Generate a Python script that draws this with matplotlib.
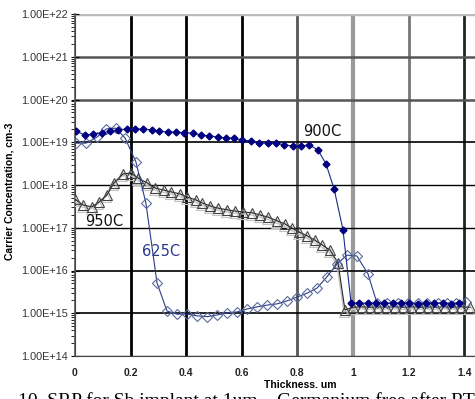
import numpy as np
import matplotlib.pyplot as plt
import matplotlib.transforms as mtransforms
from matplotlib.ticker import LogLocator, NullFormatter, FixedLocator

# 900C - fylte ruter
x_900 = [0.004, 0.035, 0.065, 0.097, 0.126, 0.155, 0.187, 0.216, 0.245, 0.277,
         0.302, 0.335, 0.363, 0.392, 0.424, 0.453, 0.482, 0.514, 0.543, 0.572,
         0.601, 0.633, 0.662, 0.694, 0.723, 0.752, 0.784, 0.813, 0.842, 0.874,
         0.903, 0.932, 0.964, 0.993, 1.022, 1.054, 1.083, 1.112, 1.144, 1.173,
         1.201, 1.234, 1.263, 1.291, 1.324, 1.353, 1.381]
log_900 = [19.26, 19.17, 19.19, 19.22, 19.26, 19.29, 19.31, 19.31, 19.31, 19.29,
           19.26, 19.24, 19.24, 19.22, 19.22, 19.17, 19.15, 19.12, 19.10, 19.10,
           19.05, 19.03, 18.98, 18.98, 18.98, 18.94, 18.91, 18.91, 18.94, 18.82,
           18.49, 17.91, 16.95, 15.24, 15.24, 15.23, 15.24, 15.23, 15.23, 15.24,
           15.23, 15.22, 15.23, 15.24, 15.23, 15.22, 15.23]

# 625C - tomme ruter
x_625 = [0.004, 0.040, 0.079, 0.112, 0.147, 0.180, 0.219, 0.255, 0.295, 0.331,
         0.367, 0.403, 0.439, 0.475, 0.511, 0.547, 0.583, 0.619, 0.655, 0.691,
         0.727, 0.763, 0.799, 0.835, 0.871, 0.906, 0.942, 0.978, 1.014, 1.054,
         1.086, 1.122, 1.162, 1.198, 1.234, 1.266, 1.306, 1.338, 1.371, 1.406]
log_625 = [18.98, 18.98, 19.12, 19.31, 19.33, 19.10, 18.54, 17.58, 15.71, 15.05,
           14.98, 14.98, 14.94, 14.92, 14.96, 15.01, 15.03, 15.10, 15.15, 15.19,
           15.22, 15.29, 15.38, 15.47, 15.59, 15.85, 16.15, 16.36, 16.34, 15.92,
           15.24, 15.24, 15.24, 15.24, 15.24, 15.24, 15.24, 15.24, 15.24, 15.26]

# 950C - trekanter
x_950 = [0.000, 0.029, 0.061, 0.086, 0.115, 0.140, 0.173, 0.201, 0.227, 0.259,
         0.288, 0.320, 0.345, 0.378, 0.403, 0.435, 0.457, 0.486, 0.514, 0.547,
         0.576, 0.604, 0.637, 0.665, 0.694, 0.727, 0.755, 0.781, 0.806, 0.835,
         0.863, 0.888, 0.917, 0.946, 0.971, 1.000, 1.032, 1.061, 1.090, 1.119,
         1.151, 1.180, 1.209, 1.241, 1.270, 1.299, 1.331, 1.360, 1.388, 1.421]
log_950 = [17.67, 17.53, 17.49, 17.60, 17.77, 18.05, 18.26, 18.28, 18.16, 18.05,
           17.93, 17.88, 17.84, 17.79, 17.72, 17.65, 17.58, 17.51, 17.46, 17.42,
           17.39, 17.37, 17.35, 17.30, 17.25, 17.16, 17.09, 16.99, 16.90, 16.81,
           16.71, 16.60, 16.48, 16.18, 15.08, 15.14, 15.15, 15.14, 15.15, 15.14,
           15.15, 15.14, 15.15, 15.14, 15.15, 15.14, 15.15, 15.14, 15.15, 15.14]

y_ticks = [1e14, 1e15, 1e16, 1e17, 1e18, 1e19, 1e20, 1e21, 1e22]
y_tick_labels = ["1.00E+14", "1.00E+15", "1.00E+16", "1.00E+17", "1.00E+18",
                 "1.00E+19", "1.00E+20", "1.00E+21", "1.00E+22"]
x_ticks = [0, 0.2, 0.4, 0.6, 0.8, 1.0, 1.2, 1.4]
x_tick_labels = ["0", "0.2", "0.4", "0.6", "0.8", "1", "1.2", "1.4"]

fig = plt.figure(figsize=(4.75, 3.99), dpi=100)
ax = fig.add_axes([75/475, 43/399, 400/475, 342/399])

ax.set_yscale("log")
ax.set_xlim(0, 400/278)
ax.set_ylim(1e14, 1e22)

# skygge for 950C
skygge = mtransforms.offset_copy(ax.transData, fig=fig, x=-1, y=-2, units="dots")
ax.plot(x_950, 10**np.array(log_950), color="#c4c4c4", lw=1.0, marker="^",
        ms=6.5, mfc="none", mec="#c4c4c4", mew=0.8, transform=skygge, zorder=3)
ax.plot(x_950, 10**np.array(log_950), color="#222222", lw=0.8, marker="^",
        ms=6.5, mfc="none", mec="#444444", mew=0.8, zorder=4)

ax.plot(x_625, 10**np.array(log_625), color="#2b3a8a", lw=0.8, marker="D",
        ms=5.5, mfc="none", mec="#5a6a9a", mew=0.8, zorder=5)
ax.plot(x_900, 10**np.array(log_900), color="#1a2a8a", lw=0.8, marker="D",
        ms=3.5, mfc="#000080", mec="#000080", zorder=6)

# akser og rutenett
ax.yaxis.set_major_locator(FixedLocator(y_ticks))
ax.set_yticklabels(y_tick_labels, fontsize=7.8, family="Liberation Sans", color="#333333")
ax.yaxis.set_minor_locator(LogLocator(base=10, subs=np.arange(2, 10), numticks=20))
ax.yaxis.set_minor_formatter(NullFormatter())
ax.set_xticks(x_ticks)
ax.set_xticklabels(x_tick_labels, fontsize=7.5, family="Liberation Sans",
                   fontweight="bold", color="#222222")
ax.tick_params(axis="y", which="major", direction="inout", length=6, width=0.8, pad=2)
ax.tick_params(axis="y", which="minor", direction="out", length=3, width=0.6)
ax.tick_params(axis="x", which="major", length=0, pad=9)

ax.grid(True, which="major", color="black", lw=1.0)
for lin, farge, bredde in zip(ax.get_xgridlines(),
                              ["black", "black", "black", "black", "#555555", "#9a9a9a", "#777777", "#222222"],
                              [1.5, 2.0, 2.0, 2.0, 2.0, 3.0, 2.0, 2.0]):
    lin.set_color(farge)
    lin.set_linewidth(bredde)
for lin, farge, bredde in zip(ax.get_ygridlines(),
                              ["#444444", "black", "black", "black", "black", "black", "#555555", "#555555", "#bbbbbb"],
                              [1.0, 1.2, 1.2, 1.0, 1.0, 1.2, 1.8, 1.8, 2.5]):
    lin.set_color(farge)
    lin.set_linewidth(bredde)
ax.set_axisbelow(True)

for s in ["top", "right"]:
    ax.spines[s].set_visible(False)
ax.spines["left"].set_color("#555555")
ax.spines["left"].set_linewidth(1.2)
ax.spines["bottom"].set_color("#444444")

ax.set_xlabel("Thickness. um", fontsize=7.5, family="Liberation Sans", fontweight="bold")
ax.xaxis.set_label_coords((300-75)/400, -(385-356)/342, transform=ax.transAxes)
ax.xaxis.label.set_va("center")
ax.set_ylabel("Carrier Concentration, cm-3", fontsize=7.5, family="Liberation Sans",
              fontweight="bold")
ax.yaxis.set_label_coords(-(75-15)/400, (356-191)/342, transform=ax.transAxes)

ax.text(0.82, 1.4e19, "900C", fontsize=10.5, color="#111111")
ax.text(0.035, 1.1e17, "950C", fontsize=10.5, color="#111111")
ax.text(0.24, 2.2e16, "625C", fontsize=10.5, color="#2b3a8a")

fig.text(18/475, 1 - 392/399, "10. SRP for Sb implant at 1um    Germanium free after RTA",
         fontsize=14, family="Liberation Serif", va="top", ha="left")

plt.savefig("out.png", dpi=100)
